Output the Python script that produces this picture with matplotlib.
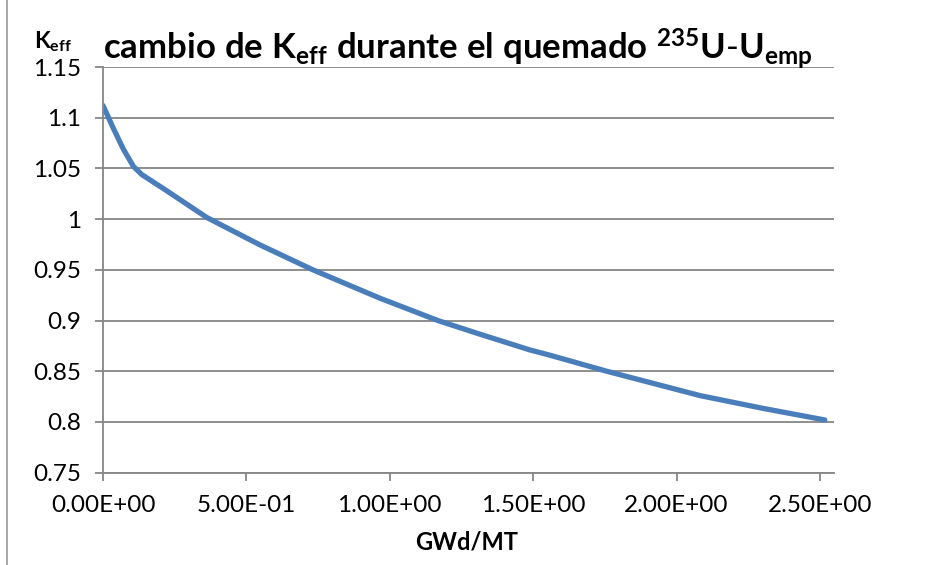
import matplotlib
matplotlib.use("Agg")
import matplotlib.pyplot as plt
from matplotlib.patches import Rectangle
from matplotlib.ticker import FuncFormatter, MultipleLocator

# quemado (GWd/MT) y K efectivo
quemado = [0.0, 0.037, 0.071, 0.106, 0.135, 0.222, 0.362, 0.548, 0.732,
           0.966, 1.168, 1.315, 1.489, 1.559, 1.757, 2.082, 2.3, 2.517]
keff = [1.112, 1.089, 1.069, 1.052, 1.044, 1.028, 1.0016, 0.9745, 0.950,
        0.922, 0.900, 0.8865, 0.871, 0.8658, 0.850, 0.826, 0.8135, 0.802]

titulo = r"$\mathbf{cambio\ de\ K_{eff}\ durante\ el\ quemado\ {}^{235}U\text{-}U_{emp}}$"
etiqueta_x = "GWd/MT"
etiqueta_y = r"$\mathbf{K_{eff}}$"

plt.rcParams["font.family"] = ["Lato", "DejaVu Sans"]
plt.rcParams["mathtext.fontset"] = "custom"
plt.rcParams["mathtext.rm"] = "Lato"
plt.rcParams["mathtext.bf"] = "Lato:bold"
plt.rcParams["mathtext.it"] = "Lato:italic"

gris = "#868686"

fig = plt.figure(figsize=(9.3, 5.65), dpi=100)
ax = fig.add_axes([103 / 930, 1 - 472.7 / 565, 731 / 930, 405.7 / 565])

ax.plot(quemado, keff, color="#4A7EBB", lw=3.8, solid_capstyle="round", solid_joinstyle="round")

ax.set_xlim(0, 2.549)
ax.set_ylim(0.75, 1.15)
ax.xaxis.set_major_locator(MultipleLocator(0.5))
ax.yaxis.set_major_locator(MultipleLocator(0.05))
ax.xaxis.set_major_formatter(FuncFormatter(lambda v, p: f"{v:.2E}"))
ax.yaxis.set_major_formatter(FuncFormatter(lambda v, p: f"{v:.2f}".rstrip("0").rstrip(".")))

ax.grid(axis="y", color=gris, lw=1.3)
ax.set_axisbelow(True)
for s in ["top", "right"]:
    ax.spines[s].set_visible(False)
for s in ["left", "bottom"]:
    ax.spines[s].set_color(gris)
    ax.spines[s].set_linewidth(1.3)
ax.tick_params(axis="both", direction="out", length=6, width=1.3, color=gris,
               labelsize=17.5, labelcolor="black")
ax.tick_params(axis="x", pad=10)
ax.tick_params(axis="y", pad=10)

fig.text(458 / 930, 1 - 59 / 565, titulo, ha="center", va="baseline", fontsize=25)
fig.text(53 / 930, 1 - 48 / 565, etiqueta_y, ha="center", va="baseline", fontsize=16.5)
fig.text(467 / 930, 1 - 542 / 565, etiqueta_x, ha="center", va="center", fontsize=17, fontweight="bold")

# marco del area del grafico
fig.patches.append(Rectangle((7 / 930, -0.2), 1.2, 1.2 + 1 - 7 / 565, transform=fig.transFigure,
                             fill=False, edgecolor="#999999", lw=1.2))

fig.savefig("out.png", dpi=100)
